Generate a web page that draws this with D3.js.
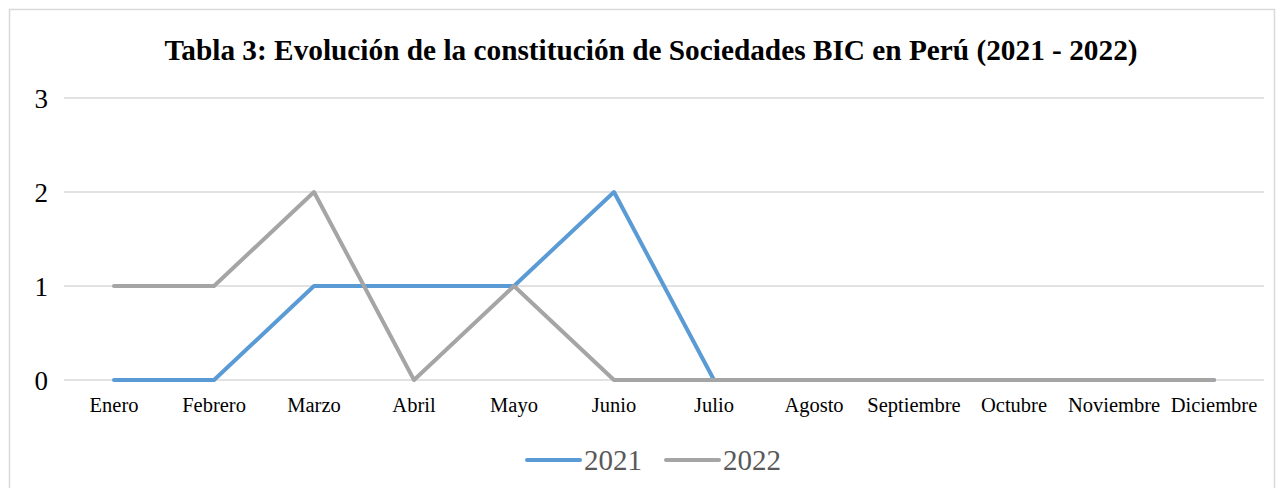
<!DOCTYPE html>
<html>
<head>
<meta charset="utf-8">
<script src="https://cdn.jsdelivr.net/npm/d3@7"></script>
<style>
  body { margin: 0; background: #fff; }
  text { font-family: "Liberation Serif", "Times New Roman", serif; }
</style>
</head>
<body>
<div id="chart-area"></div>
<script>
var months = ["Enero", "Febrero", "Marzo", "Abril", "Mayo", "Junio", "Julio", "Agosto", "Septiembre", "Octubre", "Noviembre", "Diciembre"];
var values2021 = [0, 0, 1, 1, 1, 2, 0, 0, 0, 0, 0, 0];
var values2022 = [1, 1, 2, 0, 1, 0, 0, 0, 0, 0, 0, 0];
var yTicks = [0, 1, 2, 3];
var seriesNames = ["2021", "2022"];

var width = 1280;
var height = 488;
var margin = {left: 64, right: 16, top: 98, bottom: 108};
var colors = {"2021": "#5b9bd5", "2022": "#a5a5a5"};

var svg = d3.select('#chart-area')
  .append('svg')
  .attr('width', width)
  .attr('height', height);

// outer frame
svg.append("rect")
  .attr("x", 9.5).attr("y", 9.5)
  .attr("width", width - 15).attr("height", height)
  .attr("fill", "none")
  .attr("stroke", "#d9d9d9")
  .attr("stroke-width", 1.5);

svg.append("text")
  .attr("x", 651)
  .attr("y", 60)
  .attr("text-anchor", "middle")
  .attr("font-size", "29.3px")
  .attr("font-weight", "bold")
  .attr("fill", "#000")
  .text("Tabla 3: Evolución de la constitución de Sociedades BIC en Perú (2021 - 2022)");

var xScale = d3.scaleBand().domain(months).range([margin.left, width - margin.right]);
var yScale = d3.scaleLinear().domain([0, 3]).range([height - margin.bottom, margin.top]);

// gridlines
svg.append("g").selectAll("line")
  .data(yTicks)
  .enter().append("line")
  .attr("x1", margin.left)
  .attr("x2", width - margin.right)
  .attr("y1", d => yScale(d))
  .attr("y2", d => yScale(d))
  .attr("stroke", "#d9d9d9")
  .attr("stroke-width", 1.5);

var yAxis = d3.axisLeft(yScale).tickValues(yTicks).tickFormat(d3.format("d")).tickSize(0).tickPadding(16);
svg.append("g")
  .attr("transform", "translate(" + margin.left + ",0)")
  .call(yAxis)
  .call(g => g.select(".domain").remove())
  .selectAll("text")
  .attr("font-size", "27px")
  .attr("font-family", "Liberation Serif, serif")
  .attr("fill", "#000")
  .attr("dy", "0.35em");

var xAxis = d3.axisBottom(xScale).tickSize(0).tickPadding(17);
svg.append("g")
  .attr("transform", "translate(0," + yScale(0) + ")")
  .call(xAxis)
  .call(g => g.select(".domain").remove())
  .selectAll("text")
  .attr("font-size", "20.5px")
  .attr("font-family", "Liberation Serif, serif")
  .attr("fill", "#000");

var line = d3.line()
  .x((d, i) => xScale(months[i]) + xScale.bandwidth() / 2)
  .y(d => yScale(d));

var series = [values2021, values2022];
series.forEach((vals, i) => {
  svg.append("path")
    .datum(vals)
    .attr("d", line)
    .attr("fill", "none")
    .attr("stroke", colors[seriesNames[i]])
    .attr("stroke-width", 4)
    .attr("stroke-linecap", "round")
    .attr("stroke-linejoin", "round");
});

// legend
var legend = svg.append("g").attr("transform", "translate(527, 460)");
seriesNames.forEach((name, i) => {
  var row = legend.append("g").attr("transform", "translate(" + (i * 139) + ",0)");
  row.append("line")
    .attr("x1", 0).attr("x2", 53)
    .attr("stroke", colors[name])
    .attr("stroke-width", 4)
    .attr("stroke-linecap", "round");
  row.append("text")
    .attr("x", 57).attr("y", 10)
    .attr("font-size", "29px")
    .attr("fill", "#595959")
    .text(name);
});
</script>
</body>
</html>
